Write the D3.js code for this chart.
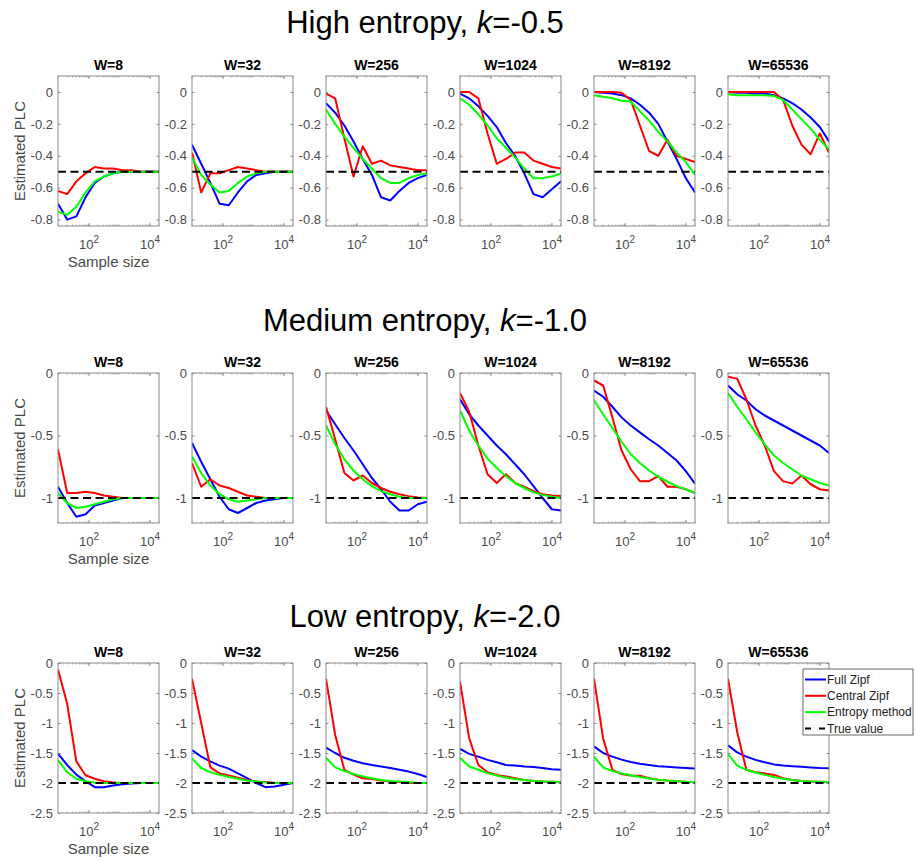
<!DOCTYPE html>
<html>
<head>
<meta charset="utf-8">
<script src="https://cdn.jsdelivr.net/npm/d3@7"></script>
<style>
  body { margin: 0; background: #fff; }
  svg { display: block; font-family: Arial, "Liberation Sans", sans-serif; }
</style>
</head>
<body>
<svg id="chart" width="915" height="861"></svg>
<script>
// Sample sizes (x) and vocabulary sizes (one panel per W)
const sampleSizes = [10, 20, 40, 80, 160, 320, 640, 1280, 2560, 5120, 10240, 20480];
const windowSizes = [8, 32, 256, 1024, 8192, 65536];
const entropyNames = ["High", "Medium", "Low"];
const kLabels = ["-0.5", "-1.0", "-2.0"];
const trueValues = [-0.5, -1.0, -2.0];

// Axis ticks
const xTicks = [100, 10000];
const yTicksHigh = [0, -0.2, -0.4, -0.6, -0.8];
const yTicksMedium = [0, -0.5, -1];
const yTicksLow = [0, -0.5, -1, -1.5, -2, -2.5];

// Legend entries
const seriesNames = ["Full Zipf", "Central Zipf", "Entropy method", "True value"];

// High entropy, k = -0.5 (one array per W)
const fullZipfHigh = [
  [-0.70, -0.80, -0.78, -0.66, -0.57, -0.53, -0.51, -0.50, -0.50, -0.50, -0.50, -0.50],
  [-0.33, -0.45, -0.57, -0.70, -0.71, -0.63, -0.56, -0.52, -0.51, -0.50, -0.50, -0.50],
  [-0.07, -0.13, -0.21, -0.31, -0.42, -0.52, -0.66, -0.68, -0.62, -0.57, -0.54, -0.52],
  [-0.01, -0.04, -0.09, -0.15, -0.22, -0.32, -0.40, -0.51, -0.64, -0.66, -0.61, -0.56],
  [0.00, -0.005, -0.01, -0.02, -0.04, -0.08, -0.13, -0.20, -0.31, -0.42, -0.54, -0.63],
  [0.00, -0.005, -0.005, -0.01, -0.01, -0.02, -0.04, -0.07, -0.11, -0.16, -0.22, -0.31]
];
const centralZipfHigh = [
  [-0.62, -0.64, -0.56, -0.51, -0.47, -0.48, -0.48, -0.49, -0.49, -0.50, -0.50, -0.50],
  [-0.38, -0.63, -0.51, -0.51, -0.49, -0.47, -0.48, -0.49, -0.50, -0.50, -0.50, -0.50],
  [-0.01, -0.04, -0.29, -0.53, -0.34, -0.45, -0.43, -0.46, -0.47, -0.48, -0.49, -0.49],
  [0.00, 0.00, -0.04, -0.26, -0.45, -0.42, -0.38, -0.38, -0.43, -0.45, -0.47, -0.48],
  [0.00, 0.00, 0.00, -0.005, -0.05, -0.21, -0.37, -0.40, -0.30, -0.40, -0.42, -0.44],
  [0.00, 0.00, 0.00, 0.00, 0.00, 0.00, -0.05, -0.21, -0.33, -0.39, -0.26, -0.38]
];
const entropyMethodHigh = [
  [-0.75, -0.77, -0.72, -0.63, -0.56, -0.53, -0.51, -0.50, -0.50, -0.50, -0.50, -0.50],
  [-0.41, -0.52, -0.58, -0.63, -0.62, -0.57, -0.53, -0.51, -0.50, -0.50, -0.50, -0.50],
  [-0.11, -0.20, -0.28, -0.35, -0.42, -0.48, -0.54, -0.57, -0.57, -0.54, -0.52, -0.51],
  [-0.04, -0.08, -0.14, -0.21, -0.29, -0.35, -0.41, -0.48, -0.54, -0.54, -0.53, -0.51],
  [-0.02, -0.03, -0.04, -0.055, -0.06, -0.12, -0.18, -0.25, -0.31, -0.38, -0.44, -0.52],
  [-0.015, -0.02, -0.02, -0.02, -0.02, -0.025, -0.05, -0.11, -0.17, -0.23, -0.30, -0.36]
];

// Medium entropy, k = -1.0
const fullZipfMedium = [
  [-0.91, -1.04, -1.15, -1.13, -1.06, -1.04, -1.02, -1.00, -1.00, -1.00, -1.00, -1.00],
  [-0.56, -0.71, -0.85, -0.99, -1.09, -1.12, -1.08, -1.04, -1.02, -1.01, -1.00, -1.00],
  [-0.30, -0.41, -0.52, -0.62, -0.73, -0.84, -0.93, -1.03, -1.10, -1.10, -1.05, -1.03],
  [-0.21, -0.33, -0.42, -0.50, -0.58, -0.65, -0.73, -0.81, -0.905, -1.00, -1.09, -1.10],
  [-0.14, -0.19, -0.27, -0.355, -0.42, -0.475, -0.53, -0.58, -0.64, -0.70, -0.785, -0.885],
  [-0.10, -0.17, -0.22, -0.29, -0.34, -0.38, -0.42, -0.46, -0.50, -0.54, -0.58, -0.64]
];
const centralZipfMedium = [
  [-0.61, -0.96, -0.96, -0.95, -0.96, -0.98, -0.99, -1.00, -1.00, -1.00, -1.00, -1.00],
  [-0.72, -0.91, -0.85, -0.90, -0.92, -0.95, -0.98, -0.99, -1.00, -1.00, -1.00, -1.00],
  [-0.27, -0.53, -0.80, -0.86, -0.82, -0.88, -0.92, -0.95, -0.97, -0.985, -0.995, -1.00],
  [-0.16, -0.31, -0.58, -0.81, -0.88, -0.81, -0.88, -0.91, -0.945, -0.97, -0.98, -0.985],
  [-0.06, -0.10, -0.355, -0.62, -0.77, -0.865, -0.865, -0.825, -0.91, -0.91, -0.93, -0.96],
  [-0.03, -0.045, -0.21, -0.42, -0.58, -0.785, -0.865, -0.885, -0.82, -0.89, -0.93, -0.94]
];
const entropyMethodMedium = [
  [-0.96, -1.04, -1.08, -1.07, -1.05, -1.03, -1.01, -1.00, -1.00, -1.00, -1.00, -1.00],
  [-0.67, -0.80, -0.90, -0.97, -1.01, -1.03, -1.02, -1.01, -1.00, -1.00, -1.00, -1.00],
  [-0.42, -0.57, -0.69, -0.78, -0.85, -0.905, -0.945, -0.97, -0.99, -1.00, -1.00, -1.00],
  [-0.30, -0.46, -0.58, -0.685, -0.76, -0.825, -0.88, -0.92, -0.955, -0.975, -0.99, -1.00],
  [-0.22, -0.33, -0.44, -0.55, -0.65, -0.72, -0.78, -0.83, -0.87, -0.905, -0.93, -0.96],
  [-0.16, -0.27, -0.37, -0.475, -0.57, -0.66, -0.72, -0.77, -0.82, -0.85, -0.88, -0.90]
];

// Low entropy, k = -2.0
const fullZipfLow = [
  [-1.51, -1.70, -1.86, -1.97, -2.07, -2.07, -2.04, -2.02, -2.01, -2.00, -2.00, -2.00],
  [-1.45, -1.56, -1.64, -1.71, -1.76, -1.84, -1.92, -2.00, -2.07, -2.06, -2.03, -2.00],
  [-1.41, -1.50, -1.58, -1.63, -1.67, -1.70, -1.725, -1.75, -1.78, -1.81, -1.85, -1.90],
  [-1.43, -1.515, -1.56, -1.615, -1.655, -1.70, -1.71, -1.725, -1.735, -1.75, -1.77, -1.78],
  [-1.39, -1.50, -1.56, -1.61, -1.65, -1.68, -1.70, -1.72, -1.73, -1.74, -1.75, -1.76],
  [-1.37, -1.49, -1.56, -1.615, -1.655, -1.69, -1.71, -1.72, -1.73, -1.74, -1.75, -1.755]
];
const centralZipfLow = [
  [-0.11, -0.68, -1.64, -1.87, -1.93, -1.97, -1.99, -2.00, -2.00, -2.00, -2.00, -2.00],
  [-0.26, -1.00, -1.74, -1.84, -1.875, -1.91, -1.95, -1.975, -1.985, -2.00, -2.00, -2.00],
  [-0.26, -1.20, -1.78, -1.86, -1.92, -1.935, -1.96, -1.975, -1.985, -2.00, -2.00, -2.00],
  [-0.31, -1.255, -1.70, -1.82, -1.865, -1.89, -1.92, -1.95, -1.965, -1.975, -1.98, -1.985],
  [-0.26, -1.26, -1.78, -1.85, -1.875, -1.88, -1.92, -1.945, -1.96, -1.97, -1.98, -1.985],
  [-0.26, -1.15, -1.78, -1.82, -1.84, -1.865, -1.92, -1.95, -1.965, -1.975, -1.98, -1.985]
];
const entropyMethodLow = [
  [-1.62, -1.82, -1.93, -1.97, -1.99, -2.00, -2.00, -2.00, -2.00, -2.00, -2.00, -2.00],
  [-1.59, -1.75, -1.82, -1.865, -1.90, -1.93, -1.96, -1.975, -1.99, -2.00, -2.00, -2.00],
  [-1.58, -1.74, -1.80, -1.85, -1.89, -1.92, -1.95, -1.965, -1.975, -1.985, -2.00, -2.00],
  [-1.58, -1.725, -1.78, -1.835, -1.875, -1.91, -1.935, -1.95, -1.965, -1.975, -1.98, -1.985],
  [-1.56, -1.74, -1.80, -1.84, -1.87, -1.90, -1.925, -1.945, -1.96, -1.97, -1.98, -1.985],
  [-1.52, -1.71, -1.78, -1.825, -1.865, -1.90, -1.93, -1.95, -1.965, -1.975, -1.98, -1.985]
];

// ---- layout ----
const rows = [
  { full: fullZipfHigh, central: centralZipfHigh, entropy: entropyMethodHigh, yDomain: [-0.84, 0.1], yTicks: yTicksHigh, top: 76, heading: 33 },
  { full: fullZipfMedium, central: centralZipfMedium, entropy: entropyMethodMedium, yDomain: [-1.2, 0], yTicks: yTicksMedium, top: 373, heading: 331 },
  { full: fullZipfLow, central: centralZipfLow, entropy: entropyMethodLow, yDomain: [-2.5, 0], yTicks: yTicksLow, top: 663, heading: 627 }
];
const panelW = 101, panelH = 150, firstLeft = 58, panelStep = 134;
const colors = { full: "#0000ff", central: "#ff0000", entropy: "#00ff00", truth: "#000000" };
const axisGray = "#8a8a8a";
const textGray = "#4a4a4a";

const svg = d3.select("#chart");

rows.forEach((row, r) => {
  // Row heading
  const head = svg.append("text")
    .attr("x", 425).attr("y", row.heading)
    .attr("text-anchor", "middle")
    .attr("font-size", 31).attr("fill", "#000");
  head.append("tspan").text(entropyNames[r] + " entropy, ");
  head.append("tspan").attr("font-style", "italic").text("k");
  head.append("tspan").text("=" + kLabels[r]);

  windowSizes.forEach((W, c) => {
    const left = firstLeft + c * panelStep;
    const top = row.top;
    const x = d3.scaleLog().domain([sampleSizes[0], sampleSizes[sampleSizes.length - 1]]).range([left, left + panelW]);
    const y = d3.scaleLinear().domain(row.yDomain).range([top + panelH, top]);

    const g = svg.append("g");

    // White plot area
    g.append("rect").attr("x", left).attr("y", top).attr("width", panelW).attr("height", panelH)
      .attr("fill", "#fff");

    // Minor log ticks along top and bottom
    const minor = [];
    for (let p = 0; p <= 4; p++) for (let m = 1; m <= 9; m++) {
      const v = m * Math.pow(10, p);
      if (v >= sampleSizes[0] && v <= sampleSizes[sampleSizes.length - 1]) minor.push(v);
    }
    g.selectAll(null).data(minor).join("line")
      .attr("x1", d => x(d)).attr("x2", d => x(d))
      .attr("y1", top).attr("y2", top + 1.5)
      .attr("stroke", axisGray).attr("stroke-width", 0.7);
    g.selectAll(null).data(minor).join("line")
      .attr("x1", d => x(d)).attr("x2", d => x(d))
      .attr("y1", top + panelH).attr("y2", top + panelH - 1.5)
      .attr("stroke", axisGray).attr("stroke-width", 0.7);

    // Y axis (left, labelled) and right-side ticks
    const yAxis = g.append("g").attr("transform", `translate(${left},0)`)
      .call(d3.axisLeft(y).tickValues(row.yTicks).tickSize(-2.5).tickPadding(5)
        .tickFormat(d => d === 0 ? "0" : String(d)));
    yAxis.select(".domain").remove();
    yAxis.selectAll(".tick line").attr("stroke", axisGray);
    yAxis.selectAll(".tick text").attr("fill", textGray).attr("font-size", 13)
      .attr("font-family", "Arial, 'Liberation Sans', sans-serif");

    const yAxisR = g.append("g").attr("transform", `translate(${left + panelW},0)`)
      .call(d3.axisRight(y).tickValues(row.yTicks).tickSize(-2.5).tickFormat(""));
    yAxisR.select(".domain").remove();
    yAxisR.selectAll(".tick line").attr("stroke", axisGray);

    // X axis (bottom, labelled as powers of ten) and top ticks
    const xAxis = g.append("g").attr("transform", `translate(0,${top + panelH})`)
      .call(d3.axisBottom(x).tickValues(xTicks).tickSize(-3));
    xAxis.select(".domain").remove();
    xAxis.selectAll(".tick line").attr("stroke", axisGray);
    xAxis.selectAll(".tick text").each(function (d) {
      const t = d3.select(this).text("10")
        .attr("y", 23).attr("dy", null)
        .attr("fill", textGray).attr("font-size", 13)
        .attr("font-family", "Arial, 'Liberation Sans', sans-serif");
      t.append("tspan").attr("dy", -6).attr("font-size", 10).text(Math.round(Math.log10(d)));
    });
    const xAxisT = g.append("g").attr("transform", `translate(0,${top})`)
      .call(d3.axisTop(x).tickValues(xTicks).tickSize(-3).tickFormat(""));
    xAxisT.select(".domain").remove();
    xAxisT.selectAll(".tick line").attr("stroke", axisGray);

    // Series lines
    const line = d3.line().x((d, i) => x(sampleSizes[i])).y(d => y(d));
    const clipId = `clip-${r}-${c}`;
    g.append("clipPath").attr("id", clipId).append("rect")
      .attr("x", left).attr("y", top).attr("width", panelW).attr("height", panelH);
    const plot = g.append("g").attr("clip-path", `url(#${clipId})`);

    [["full", row.full[c]], ["central", row.central[c]], ["entropy", row.entropy[c]]].forEach(([key, vals]) => {
      plot.append("path").datum(vals)
        .attr("d", line)
        .attr("fill", "none")
        .attr("stroke", colors[key])
        .attr("stroke-width", 2)
        .attr("stroke-linejoin", "round");
    });

    // True value reference
    plot.append("line")
      .attr("x1", left).attr("x2", left + panelW)
      .attr("y1", y(trueValues[r])).attr("y2", y(trueValues[r]))
      .attr("stroke", colors.truth).attr("stroke-width", 2)
      .attr("stroke-dasharray", "8,4.5");

    // Frame
    g.append("rect").attr("x", left).attr("y", top).attr("width", panelW).attr("height", panelH)
      .attr("fill", "none").attr("stroke", axisGray).attr("stroke-width", 1);

    // Panel title
    g.append("text").attr("x", left + panelW / 2).attr("y", top - 6)
      .attr("text-anchor", "middle").attr("font-size", 14).attr("font-weight", "bold")
      .attr("fill", "#000").text("W=" + W);

    if (c === 0) {
      g.append("text")
        .attr("transform", `translate(25,${top + panelH / 2}) rotate(-90)`)
        .attr("text-anchor", "middle").attr("font-size", 15).attr("fill", textGray)
        .text("Estimated PLC");
      g.append("text").attr("x", left + panelW / 2).attr("y", top + panelH + 41)
        .attr("text-anchor", "middle").attr("font-size", 15).attr("fill", textGray)
        .text("Sample size");
    }
  });
});

// Legend
const legend = svg.append("g").attr("transform", "translate(803,669)");
legend.append("rect").attr("x", 0).attr("y", 0).attr("width", 110).attr("height", 66)
  .attr("fill", "#fff").attr("stroke", "#444").attr("stroke-width", 0.8);
const legendKeys = ["full", "central", "entropy", "truth"];
seriesNames.forEach((name, i) => {
  const yy = 10.5 + i * 16.3;
  legend.append("line").attr("x1", 2).attr("x2", 23).attr("y1", yy).attr("y2", yy)
    .attr("stroke", colors[legendKeys[i]]).attr("stroke-width", 2)
    .attr("stroke-dasharray", legendKeys[i] === "truth" ? "6,8" : null);
  legend.append("text").attr("x", 24).attr("y", yy + 4.3)
    .attr("font-size", 12).attr("fill", "#222").text(name);
});
</script>
</body>
</html>
